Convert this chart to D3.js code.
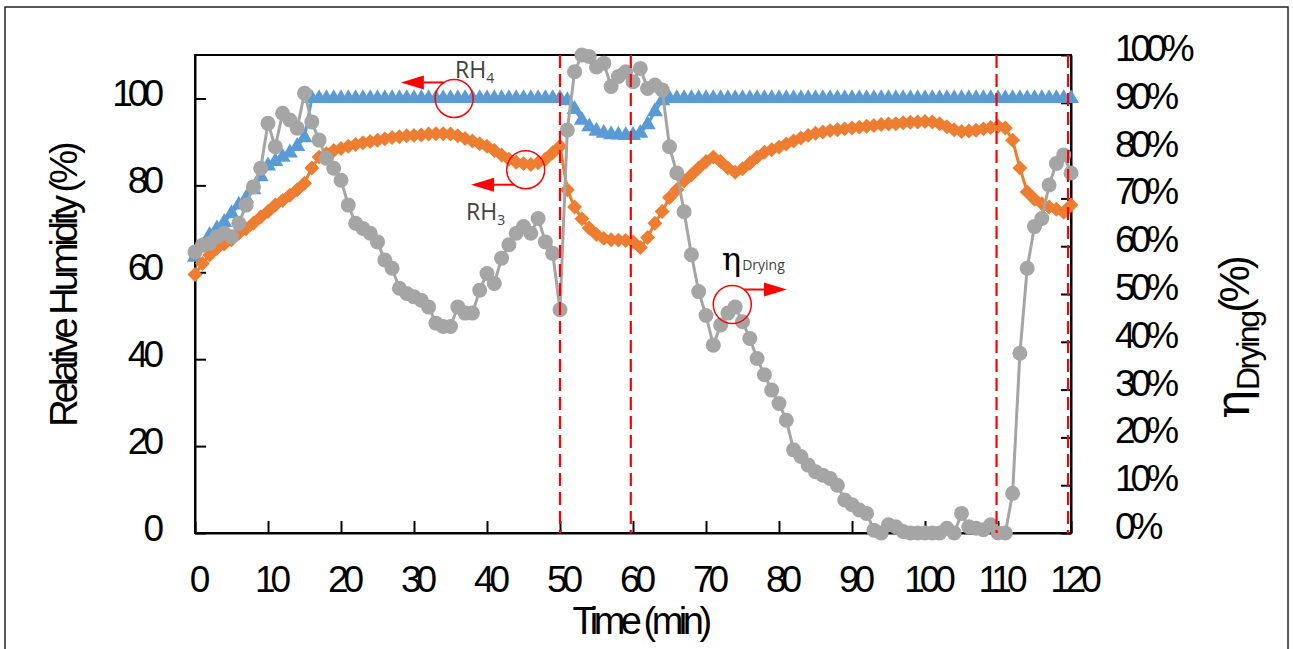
<!DOCTYPE html>
<html>
<head>
<meta charset="utf-8">
<script src="https://cdn.jsdelivr.net/npm/d3@7/dist/d3.min.js"></script>
<style>
  body { margin: 0; background: #fff; }
  svg { display: block; font-family: "Liberation Sans", Arial, sans-serif; }
</style>
</head>
<body>
<svg id="chart" width="1293" height="649"></svg>
<script>
// time axis (min), one reading per minute
const minutes = [0,1,2,3,4,5,6,7,8,9,10,11,12,13,14,15,16,17,18,19,20,21,22,23,24,25,26,27,28,29,30,31,32,33,34,35,36,37,38,39,40,41,42,43,44,45,46,47,48,49,50,51,52,53,54,55,56,57,58,59,60,61,62,63,64,65,66,67,68,69,70,71,72,73,74,75,76,77,78,79,80,81,82,83,84,85,86,87,88,89,90,91,92,93,94,95,96,97,98,99,100,101,102,103,104,105,106,107,108,109,110,111,112,113,114,115,116,117,118,119,120];

// RH4 (%) - blue triangles, left axis
const rh4 = [63.5,66,68.5,70,71.5,73.5,75.5,77,79,82,84.5,85.5,86.5,87.5,89,91,
  100,100,100,100,100,100,100,100,100,100,100,100,100,100,100,100,100,100,100,100,100,100,100,100,100,100,100,100,100,100,100,100,100,100,100,
  99.5,97.5,95,93.5,92.5,92,91.7,91.6,91.5,91.5,92,94,97,99.5,
  100,100,100,100,100,100,100,100,100,100,100,100,100,100,100,100,100,100,100,100,100,100,100,100,100,100,100,100,
  100,100,100,100,100,100,100,100,100,100,100,100,100,100,100,100,100,100,100,100,100,100,100,100,100,100,100,100];

// RH3 (%) - orange diamonds, left axis
const rh3 = [59.5,62,64,65.5,66.5,67.5,69,70,71.3,72.7,74,75.5,76.5,77.7,79,80.5,
  84,86.5,87.3,88,88.5,89,89.4,89.8,90.1,90.4,90.7,91,91.2,91.4,91.5,91.6,91.8,91.9,91.9,91.8,
  91.4,90.8,90.2,89.6,89,88,87,86,85.3,85,84.8,85.2,86,87.5,89,
  79,75,72.3,70.2,68.7,67.8,67.5,67.4,67.3,67,65.7,68,71.3,74,77.2,79,81,82.4,84,85.5,
  86.5,85.5,84,83,83.8,85.1,86.5,87.6,88.2,88.8,89.5,90.2,90.9,91.5,92,92.3,92.6,92.8,93,93.2,
  93.4,93.6,93.8,94,94.1,94.2,94.4,94.5,94.6,94.7,94.6,94.2,93.5,92.8,92.4,92.5,92.7,93,93.3,93.6,
  93.2,90.4,84,78.5,76.8,75.8,75,74.5,73.8,75.5];

// drying efficiency (%) - grey circles, right axis
const etaDrying = [58.8,60.2,60.6,62,62.7,62,64.8,68.6,72.4,76.3,85.7,80.8,87.8,86.4,84.7,92,
  86,82.2,78.4,76.3,73.8,68.6,64.8,63.7,62.7,60.9,57.1,55.4,51.2,50.1,49.4,48.7,47.3,43.9,43.2,43.2,
  47.3,46,46,50.8,54.3,52.2,57.5,60.3,62.7,64.1,62.7,65.8,60.9,58.5,46.7,
  84.3,96.5,100,99.7,97.5,98.3,93.4,95.5,96.5,94.4,97.2,93,93.7,92.7,80.8,75.3,67.2,58.2,50.5,45.5,
  39.3,43.5,46,47.3,44.2,40.7,36.5,33.1,29.9,27.1,23.6,17.4,16,14.2,12.8,12.1,11.4,10,6.9,5.9,
  4.8,4.1,0.6,0,1.7,1.3,0.3,0,0,0,0,0,1,0,4.1,1.3,1,0.7,1.7,0,
  0,8.3,37.6,55.4,64.1,65.8,72.8,77.3,79.1,75.3];

const timeTicks = [0,10,20,30,40,50,60,70,80,90,100,110,120];
const rhTicks = [0,20,40,60,80,100];
const etaTicks = [0,10,20,30,40,50,60,70,80,90,100];
const phaseMarks = [50, 59.7, 109.8, 119.6];   // red dashed lines

const svg = d3.select("#chart");

// outer frame
svg.append("rect")
  .attr("x", 5).attr("y", 7).attr("width", 1283).attr("height", 700)
  .attr("fill", "none").attr("stroke", "#222").attr("stroke-width", 1.5);

const x = d3.scaleLinear().domain([0, 120]).range([195, 1071]);
const yL = d3.scaleLinear().domain([0, 110]).range([533, 55]);
const yR = d3.scaleLinear().domain([0, 100]).range([533, 55]);

// plot box
svg.append("rect")
  .attr("x", 195).attr("y", 55).attr("width", 1071 - 195).attr("height", 533 - 55)
  .attr("fill", "none").attr("stroke", "#000").attr("stroke-width", 2);

const tickFont = g => g.selectAll("text")
  .attr("font-size", 37).attr("letter-spacing", -5).attr("fill", "#000")
  .attr("font-family", "'Liberation Sans', Arial, sans-serif");

// axes (ticks point inward)
svg.append("g").attr("transform", "translate(195,0)")
  .call(d3.axisLeft(yL).tickValues(rhTicks).tickSize(-11).tickSizeOuter(0).tickPadding(36))
  .call(g => g.select(".domain").attr("stroke-width", 2))
  .call(g => g.selectAll(".tick line").attr("stroke-width", 2))
  .call(tickFont)
  .call(g => g.selectAll("text").attr("dy", "0.2em"));

svg.append("g").attr("transform", "translate(1071,0)")
  .call(d3.axisRight(yR).tickValues(etaTicks).tickFormat(d => d + "%").tickSize(-10).tickSizeOuter(0).tickPadding(44))
  .call(g => g.select(".domain").attr("stroke-width", 2))
  .call(g => g.selectAll(".tick line").attr("stroke-width", 2))
  .call(tickFont)
  .call(g => g.selectAll("text").attr("dy", "0.15em"));

svg.append("g").attr("transform", "translate(0,533)")
  .call(d3.axisBottom(x).tickValues(timeTicks).tickSize(-12).tickSizeOuter(0).tickPadding(33))
  .call(g => g.select(".domain").attr("stroke-width", 2))
  .call(g => g.selectAll(".tick line").attr("stroke-width", 2))
  .call(tickFont)
  .call(g => g.selectAll("text").attr("dx", "2px"));

// axis titles
svg.append("text")
  .attr("transform", "translate(640,634)")
  .attr("text-anchor", "middle").attr("font-size", 38).attr("letter-spacing", -4.5)
  .text("Time (min)");

svg.append("text")
  .attr("transform", "translate(77,286) rotate(-90)")
  .attr("text-anchor", "middle").attr("font-size", 38).attr("letter-spacing", -4)
  .text("Relative Humidity (%)");

const rTitle = svg.append("text")
  .attr("transform", "translate(1249,339) rotate(-90)")
  .attr("text-anchor", "middle").attr("font-size", 42);
rTitle.append("tspan").attr("font-family", "'DejaVu Serif', serif").attr("font-size", 48).text("η");
rTitle.append("tspan").attr("font-size", 32).attr("dy", 10).attr("letter-spacing", -2.5).text("Drying");
rTitle.append("tspan").attr("dy", -10).attr("letter-spacing", -4).text("(%)");

// series
function drawSeries(values, yScale, color, marker) {
  const line = d3.line().x((d, i) => x(minutes[i])).y(d => yScale(d));
  svg.append("path").datum(values)
    .attr("d", line).attr("fill", "none")
    .attr("stroke", color).attr("stroke-width", 3).attr("stroke-linejoin", "round");
  const g = svg.append("g");
  values.forEach((v, i) => {
    const px = x(minutes[i]), py = yScale(v);
    if (marker === "circle") {
      g.append("circle").attr("cx", px).attr("cy", py).attr("r", 7.5).attr("fill", color);
    } else if (marker === "triangle") {
      g.append("path").attr("d", d3.symbol().type(d3.symbolTriangle).size(112)())
        .attr("transform", `translate(${px},${py})`).attr("fill", color);
    } else {
      g.append("path").attr("d", d3.symbol().type(d3.symbolSquare).size(112)())
        .attr("transform", `translate(${px},${py}) rotate(45)`).attr("fill", color);
    }
  });
}

drawSeries(rh4, yL, "#5b9bd5", "triangle");
drawSeries(rh3, yL, "#ed7d31", "diamond");
drawSeries(etaDrying, yR, "#a5a5a5", "circle");

// phase markers
svg.append("g").selectAll("line")
  .data(phaseMarks).enter().append("line")
  .attr("x1", d => x(d)).attr("x2", d => x(d))
  .attr("y1", 55).attr("y2", 533)
  .attr("stroke", "#ff0000").attr("stroke-width", 2.2).attr("stroke-dasharray", "13,6");

// annotations: circle + arrow + label
function annot(cx, cy, dir, ay, label, sub, lx, ly, greek) {
  svg.append("circle").attr("cx", cx).attr("cy", cy).attr("r", 19)
    .attr("fill", "none").attr("stroke", "#ff0000").attr("stroke-width", 1.5);
  const dyc = ay - cy;
  const edge = Math.sqrt(Math.max(19 * 19 - dyc * dyc, 0));
  const x0 = cx + dir * edge, x1 = x0 + dir * 20, tip = x1 + dir * 23;
  svg.append("line").attr("x1", x0).attr("x2", x1).attr("y1", ay).attr("y2", ay)
    .attr("stroke", "#ff0000").attr("stroke-width", 2);
  svg.append("path")
    .attr("d", `M${x1},${ay - 7}L${tip},${ay}L${x1},${ay + 7}Z`)
    .attr("fill", "#ff0000");
  const t = svg.append("text").attr("x", lx).attr("y", ly)
    .attr("font-family", "'Open Sans', sans-serif").attr("fill", "#404040");
  if (greek) {
    t.append("tspan").attr("font-family", "'DejaVu Serif', serif").attr("fill", "#000")
      .attr("font-size", 32).text(label);
    t.append("tspan").attr("font-size", 14).attr("dx", 1).text(sub);
  } else {
    t.append("tspan").attr("font-size", 23).text(label);
    t.append("tspan").attr("font-size", 14).attr("dy", 5).text(sub);
  }
}

annot(x(35.5), yL(100), -1, yL(100) - 16, "RH", "4", 455, 78, false);
annot(x(45.3), yL(83.6), -1, yL(83.6) + 15, "RH", "3", 466, 220, false);
annot(x(73.6), yR(47.8), 1, yR(47.8) - 15, "η", "Drying", 722, 270, true);
</script>
</body>
</html>
